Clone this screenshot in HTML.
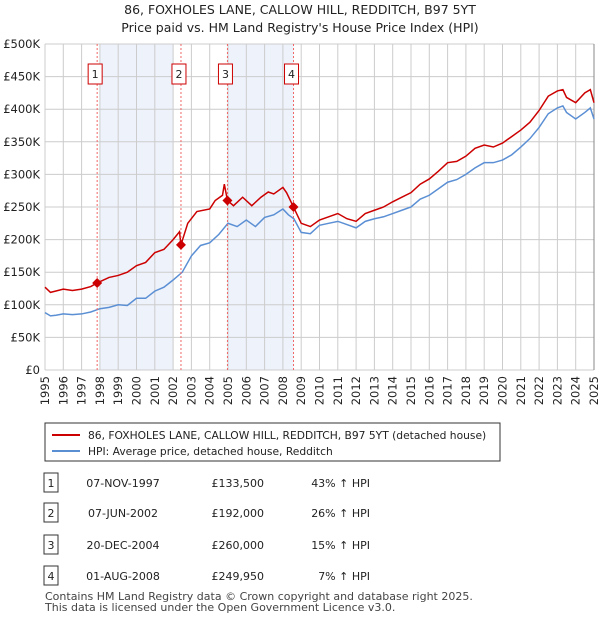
<!DOCTYPE html>
<html><head><meta charset="utf-8"><style>
body{margin:0;background:#fff;font-family:"Liberation Sans","DejaVu Sans",sans-serif;}
svg text{font-family:"DejaVu Sans","Liberation Sans",sans-serif;}
</style></head><body>
<svg id="chart" width="600" height="620" viewBox="0 0 600 620" xmlns="http://www.w3.org/2000/svg">
<text x="300" y="14" text-anchor="middle" font-size="12.5" fill="#222">86, FOXHOLES LANE, CALLOW HILL, REDDITCH, B97 5YT</text>
<text x="300" y="32" text-anchor="middle" font-size="12.5" fill="#222">Price paid vs. HM Land Registry's House Price Index (HPI)</text>
<g id="bands"></g><g id="grid"></g><g id="axes"></g><g id="series"></g><g id="markers"></g>
<g>
<rect x="45" y="423" width="455" height="38" fill="#fff" stroke="#333" stroke-width="1"/>
<line x1="52" y1="435" x2="80" y2="435" stroke="#cc0000" stroke-width="2"/>
<text x="88" y="439" font-size="10.7" fill="#222">86, FOXHOLES LANE, CALLOW HILL, REDDITCH, B97 5YT (detached house)</text>
<line x1="52" y1="451" x2="80" y2="451" stroke="#5b8fd4" stroke-width="2"/>
<text x="88" y="455" font-size="10.7" fill="#222">HPI: Average price, detached house, Redditch</text>
</g>
<g id="table" font-size="11" fill="#222"></g>
<text x="45" y="600" font-size="11" fill="#444">Contains HM Land Registry data © Crown copyright and database right 2025.</text>
<text x="45" y="611" font-size="11" fill="#444">This data is licensed under the Open Government Licence v3.0.</text>
</svg>
<script>
const yearTicks=[1995,1996,1997,1998,1999,2000,2001,2002,2003,2004,2005,2006,2007,2008,2009,2010,2011,2012,2013,2014,2015,2016,2017,2018,2019,2020,2021,2022,2023,2024,2025];
const priceTicks=[0,50,100,150,200,250,300,350,400,450,500];
const priceLabels=["£0","£50K","£100K","£150K","£200K","£250K","£300K","£350K","£400K","£450K","£500K"];
const hpiDates=[1995,1995.3,1995.6,1996,1996.5,1997,1997.5,1998,1998.5,1999,1999.5,2000,2000.5,2001,2001.5,2002,2002.5,2003,2003.5,2004,2004.5,2005,2005.5,2006,2006.5,2007,2007.5,2008,2008.3,2008.6,2009,2009.5,2010,2010.5,2011,2011.5,2012,2012.5,2013,2013.5,2014,2014.5,2015,2015.5,2016,2016.5,2017,2017.5,2018,2018.5,2019,2019.5,2020,2020.5,2021,2021.5,2022,2022.5,2023,2023.3,2023.5,2024,2024.5,2024.8,2025];
const hpiValues=[88,83,84,86,85,86,89,94,96,100,99,110,110,121,127,138,150,175,191,195,208,225,220,230,220,234,238,247,238,232,211,209,222,225,228,223,218,228,232,235,240,245,250,262,268,278,288,292,300,310,318,318,322,330,342,355,372,393,402,405,395,385,395,402,385];
const priceDates=[1995,1995.3,1996,1996.5,1997,1997.5,1997.85,1998.5,1999,1999.5,2000,2000.5,2001,2001.5,2002,2002.35,2002.43,2002.8,2003.3,2004,2004.3,2004.7,2004.8,2004.97,2005.3,2005.8,2006.3,2006.8,2007.2,2007.5,2008,2008.2,2008.58,2009,2009.5,2010,2010.5,2011,2011.5,2012,2012.5,2013,2013.5,2014,2014.5,2015,2015.5,2016,2016.5,2017,2017.5,2018,2018.5,2019,2019.5,2020,2020.5,2021,2021.5,2022,2022.5,2023,2023.3,2023.5,2024,2024.5,2024.8,2025];
const priceValues=[127,119,124,122,124,128,133.5,142,145,150,160,165,180,185,200,212,192,225,243,247,260,268,285,260,252,265,252,265,273,270,280,272,249.95,225,220,230,235,240,232,228,240,245,250,258,265,272,285,293,305,318,320,328,340,345,342,348,358,368,380,398,420,428,430,418,410,425,430,410];
const saleDates=[1997.85,2002.43,2004.97,2008.58];
const saleValues=[133.5,192,260,249.95];
const saleLabels=["1","2","3","4"];
const saleDateText=["07-NOV-1997","07-JUN-2002","20-DEC-2004","01-AUG-2008"];
const salePriceText=["£133,500","£192,000","£260,000","£249,950"];
const saleHpiText=["43% ↑ HPI","26% ↑ HPI","15% ↑ HPI","7% ↑ HPI"];
const bandStarts=[1998,2005];
const bandEnds=[2002,2008.58];

const NS="http://www.w3.org/2000/svg";
const X0=45,X1=594,Y0=370,Y1=44;
const xs=d=>X0+(d-1995)/(2025-1995)*(X1-X0);
const ys=v=>Y0-v/500*(Y0-Y1);
function mk(tag,attrs,parent){const e=document.createElementNS(NS,tag);for(const k in attrs)e.setAttribute(k,attrs[k]);document.getElementById(parent).appendChild(e);return e;}

bandStarts.forEach((s,i)=>{
const r=mk('rect',{x:xs(s),y:Y1,width:xs(bandEnds[i])-xs(s),height:Y0-Y1,fill:'#eef2fb'},'bands');


});
yearTicks.forEach(y=>{
const l=mk('line',{x1:xs(y),x2:xs(y),y1:Y1,y2:Y0,stroke:'#cccccc','stroke-width':1},'grid');


const t=mk('text',{x:0,y:0,'font-size':11.5,fill:'#222','text-anchor':'end',transform:`translate(${xs(y)+4},${Y0+6}) rotate(-90)`},'axes');
t.textContent=y;


});
priceTicks.forEach((p,i)=>{
const l=mk('line',{x1:X0,x2:X1,y1:ys(p),y2:ys(p),stroke:'#cccccc','stroke-width':1},'grid');


const t=mk('text',{x:X0-5,y:ys(p)+4,'font-size':11.5,fill:'#222','text-anchor':'end'},'axes');
t.textContent=priceLabels[i];


});
const ax=mk('line',{x1:X1,x2:X1,y1:Y1,y2:Y0,stroke:'#888','stroke-width':1},'axes');



const hp=mk('polyline',{points:hpiDates.map((d,i)=>xs(d)+','+ys(hpiValues[i])).join(' '),fill:'none',stroke:'#5b8fd4','stroke-width':1.5},'series');


const pp=mk('polyline',{points:priceDates.map((d,i)=>xs(d)+','+ys(priceValues[i])).join(' '),fill:'none',stroke:'#cc0000','stroke-width':1.5},'series');



saleDates.forEach((d,i)=>{
const x=xs(d);
const l=mk('line',{x1:x,x2:x,y1:Y1,y2:Y0,stroke:'#f06666','stroke-width':1,'stroke-dasharray':'2,2'},'markers');


const y=ys(saleValues[i]);
const dm=mk('polygon',{points:`${x},${y-5} ${x+5},${y} ${x},${y+5} ${x-5},${y}`,fill:'#cc0000'},'markers');


const b=mk('rect',{x:x-9,y:64,width:14,height:20,fill:'#fff',stroke:'#cc0000','stroke-width':1},'markers');


const t=mk('text',{x:x-2,y:78,'font-size':11,fill:'#222','text-anchor':'middle'},'markers');
t.textContent=saleLabels[i];


});
const rowY=[483,513,545,576];
saleLabels.forEach((s,i)=>{
const y=rowY[i];
const b=mk('rect',{x:44,y:y-10,width:14,height:19,fill:'#fff',stroke:'#333','stroke-width':1},'table');


const vals=[[51,s,'middle'],[123,saleDateText[i],'middle'],[264,salePriceText[i],'end'],[370,saleHpiText[i],'end']];
const names=['row-number','row-date','row-price','row-hpi'];
vals.forEach((v,j)=>{
const t=mk('text',{x:v[0],y:y+4,'font-size':11,fill:'#222','text-anchor':v[2]},'table');
t.textContent=v[1];


});
});
</script>
</body></html>
